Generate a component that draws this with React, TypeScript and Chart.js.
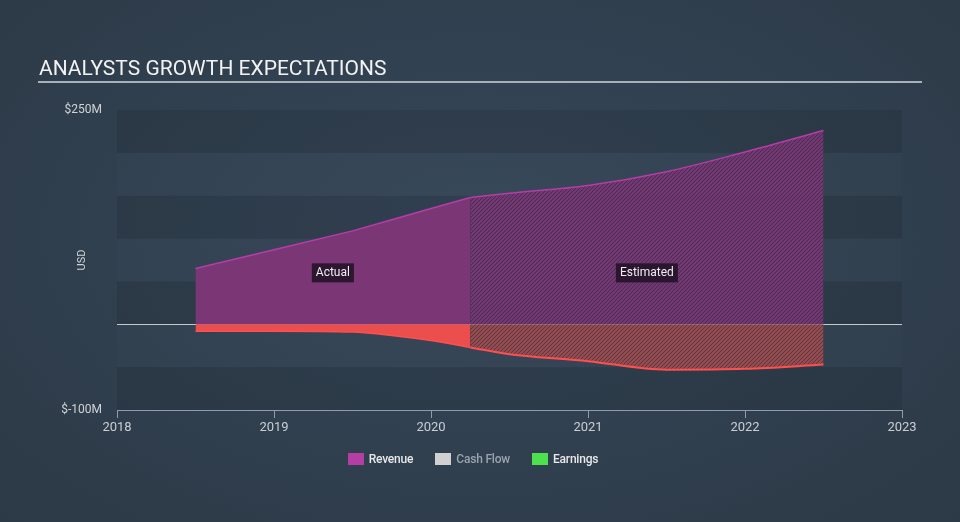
import React, { useEffect, useRef } from "react";
import { Chart, registerables } from "chart.js";

Chart.register(...registerables);

const actualYears = [2018.5, 2019.0, 2019.5, 2019.75, 2020.0, 2020.25];
const revenueActual = [65, 87, 109, 122, 135, 148];
const earningsActual = [-8, -8, -9, -13, -19, -27];

const estimatedYears = [2020.25, 2020.5, 2021.0, 2021.5, 2022.0, 2022.5];
const revenueEstimated = [148, 153, 162, 178, 201, 226];
const earningsEstimated = [-27, -35, -43, -53, -52, -47];

const xTicks = [2018, 2019, 2020, 2021, 2022, 2023];
const yMin = -100;
const yMax = 250;
const yLabels: Record<number, string> = { 250: "$250M", [-100]: "$-100M" };

const legendItems = [
  { label: "Revenue", color: "#b43ea6", text: "#e8e8ea" },
  { label: "Cash Flow", color: "#d0d0d0", text: "#9aa4af" },
  { label: "Earnings", color: "#4ee14e", text: "#e8e8ea" },
];

const FONT = "Roboto, 'Noto Sans', sans-serif";

function makePattern(bg: string, line: string): CanvasPattern | string {
  const c = document.createElement("canvas");
  const s = 4;
  c.width = s;
  c.height = s;
  const g = c.getContext("2d");
  if (!g) return line;
  g.fillStyle = bg;
  g.fillRect(0, 0, s, s);
  g.strokeStyle = line;
  g.lineWidth = 1;
  g.beginPath();
  g.moveTo(0, s);
  g.lineTo(s, 0);
  g.moveTo(-1, 1);
  g.lineTo(1, -1);
  g.moveTo(s - 1, s + 1);
  g.lineTo(s + 1, s - 1);
  g.stroke();
  const p = g.createPattern(c, "repeat");
  return p || line;
}

const toPoints = (xs: number[], ys: number[]) => xs.map((x, i) => ({ x, y: ys[i] }));

export default function App() {
  const ref = useRef<HTMLCanvasElement | null>(null);

  useEffect(() => {
    if (!ref.current) return;
    const revPattern = makePattern("rgba(122,55,117,0.88)", "rgba(60,38,70,0.7)");
    const earnPattern = makePattern("rgba(162,76,79,0.88)", "rgba(70,50,62,0.75)");

    const bandsPlugin = {
      id: "bands",
      beforeDraw(chart: any) {
        const { ctx, chartArea, scales } = chart;
        const y = scales.y;
        ctx.save();
        for (let v = yMin; v < yMax; v += 50) {
          const top = y.getPixelForValue(v + 50);
          const bot = y.getPixelForValue(v);
          const idx = Math.round((v - yMin) / 50);
          ctx.fillStyle = idx % 2 === 0 ? "rgba(0,0,0,0.09)" : "rgba(255,255,255,0.01)";
          ctx.fillRect(chartArea.left, top, chartArea.right - chartArea.left, bot - top);
        }
        ctx.restore();
      },
    };

    const annotPlugin = {
      id: "annot",
      afterDatasetsDraw(chart: any) {
        const { ctx, chartArea, scales } = chart;
        const x = scales.x;
        const y = scales.y;
        const boxes = [
          { text: "Actual", xv: (actualYears[0] + actualYears[actualYears.length - 1]) / 2 },
          { text: "Estimated", xv: (estimatedYears[0] + estimatedYears[estimatedYears.length - 1]) / 2 },
        ];
        ctx.save();
        ctx.font = `12px ${FONT}`;
        ctx.textAlign = "center";
        ctx.textBaseline = "middle";
        for (const b of boxes) {
          const px = x.getPixelForValue(b.xv);
          const py = y.getPixelForValue(60);
          const w = ctx.measureText(b.text).width + 8;
          const h = 19;
          ctx.fillStyle = "rgba(38,20,42,0.92)";
          ctx.fillRect(px - w / 2, py - h / 2, w, h);
          ctx.fillStyle = "#eeeeee";
          ctx.fillText(b.text, px, py + 0.5);
        }
        ctx.translate(chartArea.left - 35, (chartArea.top + chartArea.bottom) / 2);
        ctx.rotate(-Math.PI / 2);
        ctx.font = `11px ${FONT}`;
        ctx.fillStyle = "#d0d4d8";
        ctx.fillText("USD", 0, 0);
        ctx.restore();
      },
    };

    const chart = new Chart(ref.current, {
      type: "line",
      data: {
        datasets: [
          {
            label: "Revenue",
            data: toPoints(actualYears, revenueActual),
            borderColor: "#b43ea6",
            borderWidth: 1.5,
            backgroundColor: "#7b3775",
            fill: "origin",
            pointRadius: 0,
            tension: 0,
          },
          {
            label: "Revenue Estimated",
            data: toPoints(estimatedYears, revenueEstimated),
            borderColor: "#b43ea6",
            borderWidth: 1.5,
            backgroundColor: revPattern as any,
            fill: "origin",
            pointRadius: 0,
            cubicInterpolationMode: "monotone",
          },
          {
            label: "Earnings",
            data: toPoints(actualYears, earningsActual),
            borderColor: "#ff4f4f",
            borderWidth: 1.5,
            backgroundColor: "#ec4e4e",
            fill: "origin",
            pointRadius: 0,
            cubicInterpolationMode: "monotone",
          },
          {
            label: "Earnings Estimated",
            data: toPoints(estimatedYears, earningsEstimated),
            borderColor: "#ff4f4f",
            borderWidth: 2,
            backgroundColor: earnPattern as any,
            fill: "origin",
            pointRadius: 0,
            cubicInterpolationMode: "monotone",
          },
        ],
      },
      options: {
        animation: false,
        responsive: false,
        maintainAspectRatio: false,
        events: [],
        layout: { padding: { left: 57, right: 58, top: 110, bottom: 82 } },
        plugins: {
          legend: { display: false },
          tooltip: { enabled: false },
          title: { display: false },
        },
        scales: {
          x: {
            type: "linear",
            min: 2018,
            max: 2023,
            afterFit: (s: any) => {
              s.height = 30;
            },
            afterBuildTicks: (s: any) => {
              s.ticks = xTicks.map((v) => ({ value: v }));
            },
            ticks: {
              callback: (v: any) => String(v),
              color: "#c9ced4",
              font: { family: FONT, size: 13 },
              padding: 2,
              maxRotation: 0,
            },
            grid: {
              drawOnChartArea: false,
              tickLength: 8,
              color: "#8e9cab",
              lineWidth: 1,
            },
            border: { display: true, color: "#8e9cab", width: 1 },
          },
          y: {
            type: "linear",
            min: yMin,
            max: yMax,
            afterFit: (s: any) => {
              s.width = 60;
            },
            ticks: {
              stepSize: 50,
              callback: (v: any) => yLabels[v as number] ?? "",
              color: "#d0d4d8",
              font: { family: FONT, size: 12 },
              padding: 15,
            },
            grid: {
              drawTicks: false,
              color: (ctx: any) => (ctx.tick && ctx.tick.value === 0 ? "#c8c8c8" : "rgba(0,0,0,0)"),
              lineWidth: 1,
            },
            border: { display: false },
          },
        },
      },
      plugins: [bandsPlugin, annotPlugin],
    } as any);

    return () => {
      chart.destroy();
    };
  }, []);

  return (
    <div
      style={{
        position: "absolute",
        left: 0,
        top: 0,
        width: 960,
        height: 522,
        overflow: "hidden",
        background: "radial-gradient(ellipse at 50% 45%, #364759 0%, #303f4e 60%, #2c3946 100%)",
        fontFamily: FONT,
      }}
    >
      <canvas ref={ref} width={960} height={522} style={{ position: "absolute", left: 0, top: 0, width: 960, height: 522 }} />
      <div
        style={{
          position: "absolute",
          left: 38,
          top: 55,
          width: 883,
          borderBottom: "2px solid #a8b0b9",
          color: "#f2f2f2",
          fontSize: 21,
          lineHeight: "26px",
          paddingLeft: 1,
          letterSpacing: 0,
        }}
      >
        ANALYSTS GROWTH EXPECTATIONS
      </div>
      <div
        style={{
          position: "absolute",
          left: -7,
          width: 960,
          top: 452,
          display: "flex",
          justifyContent: "center",
          alignItems: "center",
          gap: 22,
          fontSize: 12,
          fontWeight: 500,
        }}
      >
        {legendItems.map((it) => (
          <div key={it.label} style={{ display: "flex", alignItems: "center", gap: 5 }}>
            <span style={{ display: "inline-block", width: 16, height: 12, background: it.color }} />
            <span style={{ color: it.text, letterSpacing: -0.2 }}>{it.label}</span>
          </div>
        ))}
      </div>
    </div>
  );
}
